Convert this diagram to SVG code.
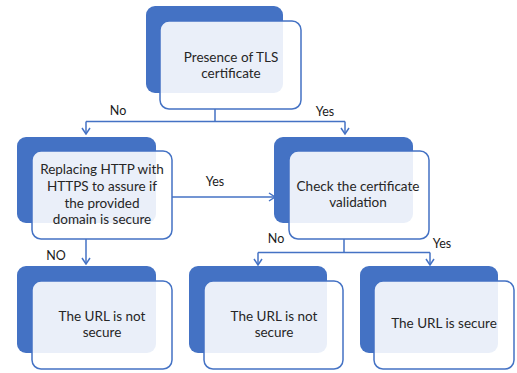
<svg xmlns="http://www.w3.org/2000/svg" width="517" height="373" viewBox="0 0 517 373">
<defs>
<marker id="arr" viewBox="0 0 10 10" refX="9.5" refY="5" markerWidth="10" markerHeight="10" markerUnits="userSpaceOnUse" orient="auto">
<path d="M3.5,1 L9.5,5 L3.5,9" fill="none" stroke="#4472C4" stroke-width="1.5"/>
</marker>
<style>
.back{fill:#4472C4;}
.front{fill:#FFFFFF;fill-opacity:0.89;stroke:#4472C4;stroke-width:1.5;}
.t{font-family:Lato,"Liberation Sans",sans-serif;font-size:13.5px;fill:#262626;text-anchor:middle;}
.lbl{font-family:Lato,"Liberation Sans",sans-serif;font-size:12.5px;fill:#1a1a1a;text-anchor:middle;}
.c{fill:none;stroke:#4472C4;stroke-width:1.5;}
</style>
</defs>
<rect width="517" height="373" fill="#FFFFFF"/>
<g id="connectors">
<path class="c" d="M215,109 V121.5 M86,121.5 H345"/>
<path class="c" d="M86,121.5 V134" marker-end="url(#arr)"/>
<path class="c" d="M345,121.5 V134" marker-end="url(#arr)"/>
<path class="c" d="M172,197 H275" marker-end="url(#arr)"/>
<path class="c" d="M86,239 V264" marker-end="url(#arr)"/>
<path class="c" d="M344,239 V252.5 M258,252.5 H430"/>
<path class="c" d="M258,252.5 V265" marker-end="url(#arr)"/>
<path class="c" d="M430,252.5 V265" marker-end="url(#arr)"/>
<text class="lbl" x="118" y="115">No</text>
<text class="lbl" x="325" y="116">Yes</text>
<text class="lbl" x="215" y="186">Yes</text>
<text class="lbl" x="56" y="260">NO</text>
<text class="lbl" x="276" y="243">No</text>
<text class="lbl" x="442" y="248">Yes</text>
</g>
<g id="n1">
<rect class="back" x="146" y="6" width="137" height="87" rx="9"/>
<rect class="front" x="160" y="21" width="141" height="88" rx="9"/>
<text class="t" x="231" y="62">Presence of TLS</text>
<text class="t" x="231" y="78">certificate</text>
</g>
<g id="n2">
<rect class="back" x="17" y="137" width="139" height="86" rx="9"/>
<rect class="front" x="32" y="151" width="140" height="88" rx="9"/>
<text class="t" x="102" y="174">Replacing HTTP with</text>
<text class="t" x="102" y="191">HTTPS to assure if</text>
<text class="t" x="102" y="208">the provided</text>
<text class="t" x="102" y="224">domain is secure</text>
</g>
<g id="n3">
<rect class="back" x="274" y="137" width="139" height="86" rx="9"/>
<rect class="front" x="289" y="151" width="140" height="88" rx="9"/>
<text class="t" x="358" y="191">Check the certificate</text>
<text class="t" x="358" y="207">validation</text>
</g>
<g id="n4">
<rect class="back" x="17" y="266" width="139" height="87" rx="9"/>
<rect class="front" x="32" y="281" width="140" height="88" rx="9"/>
<text class="t" x="102" y="321">The URL is not</text>
<text class="t" x="102" y="337">secure</text>
</g>
<g id="n5">
<rect class="back" x="189" y="266" width="138" height="87" rx="9"/>
<rect class="front" x="204" y="281" width="139" height="88" rx="9"/>
<text class="t" x="274" y="321">The URL is not</text>
<text class="t" x="274" y="337">secure</text>
</g>
<g id="n6">
<rect class="back" x="360" y="266" width="138" height="87" rx="9"/>
<rect class="front" x="374" y="281" width="140" height="88" rx="9"/>
<text class="t" x="444" y="328">The URL is secure</text>
</g>
</svg>
